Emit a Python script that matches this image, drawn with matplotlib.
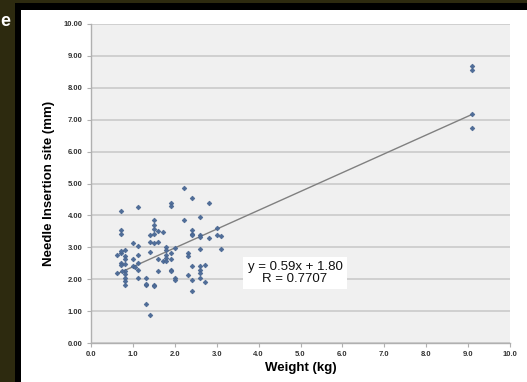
import matplotlib.pyplot as plt
from matplotlib.patches import Rectangle

plt.rcParams['font.family'] = ['Liberation Sans', 'DejaVu Sans']

# weight (kg) and needle insertion site (mm)
weight = [0.61, 0.61, 0.71, 0.71, 0.81, 0.71, 0.71, 0.81, 0.81, 0.81, 0.81, 0.81, 0.81, 0.81, 0.81,
          0.73, 0.71, 0.71, 0.71,
          1.11, 1.00, 1.11, 1.11, 1.00, 1.11, 1.00, 1.05, 1.11, 1.11,
          1.32, 1.32, 1.32, 1.32, 1.41,
          1.51, 1.51, 1.51, 1.61, 1.71, 1.41, 1.51, 1.41, 1.51, 1.61, 1.41, 1.61, 1.71, 1.61, 1.51, 1.51,
          1.91, 1.91, 1.80, 1.80, 1.91, 1.80, 1.80, 1.80, 2.00, 1.91, 1.91, 1.91, 2.00, 2.00,
          2.21, 2.21, 2.41, 2.31, 2.31, 2.31, 2.41, 2.41, 2.41, 2.41, 2.41, 2.41,
          2.60, 2.60, 2.60, 2.60, 2.60, 2.60, 2.60, 2.60, 2.71, 2.71, 2.81, 2.81,
          3.00, 3.00, 3.11, 3.11,
          9.10, 9.10, 9.10, 9.10]
site = [2.18, 2.76, 2.82, 2.88, 2.93, 2.51, 2.43, 2.72, 2.62, 2.48, 2.25, 2.17, 2.04, 1.95, 1.83,
        2.27, 4.15, 3.53, 3.42,
        4.26, 3.12, 3.03, 2.75, 2.64, 2.51, 2.41, 2.38, 2.30, 2.04,
        2.04, 1.83, 1.86, 1.22, 0.88,
        3.85, 3.71, 3.56, 3.50, 3.47, 3.38, 3.42, 3.16, 3.14, 3.16, 2.85, 2.62, 2.56, 2.27, 1.83, 1.80,
        4.39, 4.29, 3.00, 2.93, 2.82, 2.77, 2.67, 2.56, 2.98, 2.62, 2.30, 2.27, 2.04, 1.97,
        4.86, 3.87, 4.55, 2.82, 2.74, 2.14, 3.54, 3.43, 3.37, 2.41, 1.96, 1.64,
        3.94, 3.40, 3.32, 2.96, 2.41, 2.30, 2.20, 2.04, 2.46, 1.90, 4.39, 3.30,
        3.61, 3.40, 3.35, 2.95,
        8.68, 8.55, 7.18, 6.75]

slope = 0.59
intercept = 1.80
r_value = 0.7707

fig = plt.figure(figsize=(5.27, 3.82), dpi=100)
fig.patch.set_facecolor('#2d2a0f')
# slide frame behind the chart
fig.patches.append(Rectangle((15 / 527, 0), 1, 1 - 3 / 382, transform=fig.transFigure,
                             facecolor='black', edgecolor='none', zorder=-10))
fig.patches.append(Rectangle((21 / 527, 0), 1, 1 - 10 / 382, transform=fig.transFigure,
                             facecolor='white', edgecolor='none', zorder=-9))
fig.text(0.0, 1 - 22 / 382, 'e', color='white', fontsize=13, fontweight='bold', va='center')

ax = fig.add_axes([91 / 527, 1 - 343 / 382, 419 / 527, 319 / 382])
ax.set_facecolor('#f0f0f0')

ax.scatter(weight, site, marker='D', s=6, color='#4f6d99', edgecolors='#44618c',
           linewidths=0.4, zorder=3)

x_line = [min(weight), max(weight)]
y_line = [slope * x + intercept for x in x_line]
ax.plot(x_line, y_line, color='#808080', linewidth=1.0, zorder=2)

ax.text(4.87, 2.19, f'y = {slope:.2f}x + {intercept:.2f}\nR = {r_value:.4f}',
        ha='center', va='center', fontsize=9.5, color='#111111', linespacing=1.0,
        bbox=dict(facecolor='white', edgecolor='none', pad=3), zorder=4)

ax.set_xlim(0, 10)
ax.set_ylim(0, 10)
ax.set_xticks(range(0, 11))
ax.set_xticklabels([f'{v:.1f}' for v in range(0, 11)], fontweight='bold')
ax.set_yticks(range(0, 11))
ax.set_yticklabels([f'{v:.2f}' for v in range(0, 11)], fontweight='bold')
ax.yaxis.grid(True, color='#d0d0d0', linewidth=1.4)
ax.set_axisbelow(True)

for side in ['top', 'right']:
    ax.spines[side].set_visible(False)
for side in ['left', 'bottom']:
    ax.spines[side].set_color('#b0b0b0')
    ax.spines[side].set_linewidth(1.0)
ax.tick_params(axis='both', labelsize=5.5, colors='#b0b0b0', labelcolor='#333333',
               length=3, width=0.8, pad=3)

ax.set_xlabel('Weight (kg)', fontsize=9.5, fontweight='bold', labelpad=3)
ax.set_ylabel('Needle Insertion site (mm)', fontsize=9.5, fontweight='bold', labelpad=6)

fig.savefig('out.png', dpi=100, facecolor=fig.get_facecolor())
